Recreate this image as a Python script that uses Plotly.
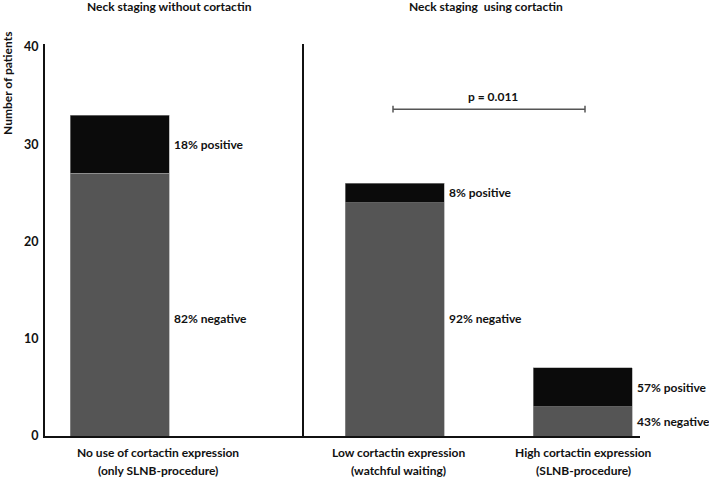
import plotly.graph_objects as go

# ---- data ----
categories = ["No use of cortactin expression<br>(only SLNB-procedure)",
              "Low cortactin expression<br>(watchful waiting)",
              "High cortactin expression<br>(SLNB-procedure)"]
negative = [27, 24, 3]
positive = [6, 2, 4]
neg_labels = ["82% negative", "92% negative", "43% negative"]
pos_labels = ["18% positive", "8% positive", "57% positive"]
group_titles = ["Neck staging without cortactin", "Neck staging  using cortactin"]
p_text = "p = 0.011"
y_ticks = [0, 10, 20, 30, 40]

# ---- layout constants (x units = pixels from the y axis) ----
W, H = 709, 478
ML, MR, MT, MB = 45, 69, 44, 42
x_range = [0, W - ML - MR]
bar_x = [74.5, 349.5, 537.5]
bar_w = 99
label_x = [113, 353, 538]
divider_x = 258
bracket = (348, 540, 33.6)
title_x = [124, 441]
neg_label_y = [12.1, 12.1, 1.45]

FONT = "Lato"
TXT = "#111111"
font = dict(family=FONT, size=12, color=TXT, weight=700)

fig = go.Figure()
fig.add_trace(go.Bar(x=bar_x, y=negative, width=bar_w, marker=dict(color="#555555", line=dict(width=0.6, color="#9a9a9a")),
                     showlegend=False, hoverinfo="skip"))
fig.add_trace(go.Bar(x=bar_x, y=positive, width=bar_w, marker=dict(color="#0b0b0b", line=dict(width=0.6, color="#9a9a9a")),
                     showlegend=False, hoverinfo="skip"))

ann = []
for i in range(3):
    xr = bar_x[i] + bar_w / 2 + 3
    ann.append(dict(x=xr, y=negative[i] + positive[i] / 2, text=pos_labels[i], xref="x", yref="y",
                    xanchor="left", yanchor="middle", showarrow=False, font=font))
    ann.append(dict(x=xr, y=neg_label_y[i], text=neg_labels[i], xref="x", yref="y",
                    xanchor="left", yanchor="middle", showarrow=False, font=font))
    lines = categories[i].split("<br>")
    for j, ln in enumerate(lines):
        ypx = 453 + 17 * j
        ann.append(dict(x=label_x[i], y=-(ypx - (H - MB)) / (H - MT - MB), text=ln, xref="x", yref="paper",
                        xanchor="center", yanchor="middle", showarrow=False, font=font))

plot_h = H - MT - MB
for t, tx in zip(group_titles, title_x):
    ann.append(dict(x=tx, y=1 + (MT - 7) / plot_h, text=t, xref="x", yref="paper",
                    xanchor="center", yanchor="middle", showarrow=False, font=font))

ann.append(dict(x=-(ML - 7) / (W - ML - MR), y=(H - MB - 84) / plot_h, text="Number of patients",
                xref="paper", yref="paper", textangle=-90, xanchor="center", yanchor="middle",
                showarrow=False, font=font))

bx0, bx1, by = bracket
ann.append(dict(x=(bx0 + bx1) / 2 + 4, y=by, text=p_text, xref="x", yref="y", xanchor="center",
                yanchor="bottom", yshift=3, showarrow=False, font=font))

shapes = [
    dict(type="line", xref="x", yref="y", x0=divider_x, x1=divider_x, y0=0, y1=40.3,
         line=dict(color="#111111", width=2)),
    dict(type="line", xref="x", yref="y", x0=bx0, x1=bx1, y0=by, y1=by, line=dict(color="#555555", width=1.5)),
    dict(type="line", xref="x", yref="y", x0=bx0, x1=bx0, y0=by - 0.35, y1=by + 0.35, line=dict(color="#555555", width=1.5)),
    dict(type="line", xref="x", yref="y", x0=bx1, x1=bx1, y0=by - 0.35, y1=by + 0.35, line=dict(color="#555555", width=1.5)),
]

fig.update_layout(
    width=W, height=H, barmode="stack", bargap=0,
    margin=dict(l=ML, r=MR, t=MT, b=MB),
    plot_bgcolor="white", paper_bgcolor="white",
    annotations=ann, shapes=shapes,
    xaxis=dict(range=x_range, showgrid=False, zeroline=False, showticklabels=False, ticks="",
               showline=True, linecolor="#111111", linewidth=2, fixedrange=True),
    yaxis=dict(range=[0, 40.3], tickvals=y_ticks, ticktext=[str(v) for v in y_ticks], showgrid=False,
               zeroline=False, ticks="", ticklen=0, showline=True, linecolor="#111111", linewidth=2,
               tickfont=dict(family=FONT, size=12.5, color=TXT, weight=700), ticklabelstandoff=2),
)

fig.write_html("out.html", config={"displayModeBar": False, "staticPlot": True},
               post_script="document.body.style.margin='0';document.body.style.overflow='hidden';")
